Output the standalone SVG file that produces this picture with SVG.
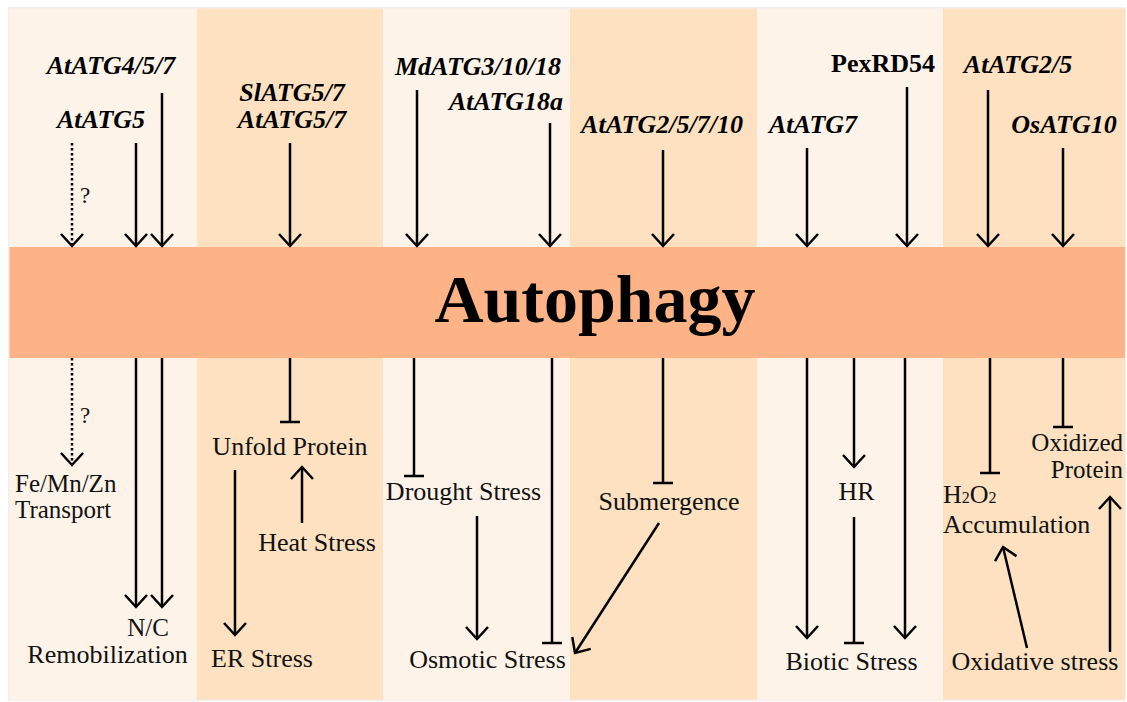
<svg xmlns="http://www.w3.org/2000/svg" width="1127" height="702" viewBox="0 0 1127 702">
<style>
.lt{fill:#FEF3E8}
.dk{fill:#FDE1C0}
.band{fill:#FDB385}
.gene{font-family:"Liberation Serif","Times New Roman",serif;font-size:26px;font-weight:bold;font-style:italic;fill:#000;text-anchor:middle}
.prot{font-family:"Liberation Serif","Times New Roman",serif;font-size:26px;font-weight:bold;fill:#000;text-anchor:middle}
.lbl{font-family:"Liberation Serif","Times New Roman",serif;font-size:26px;fill:#111;text-anchor:middle}
.l2{font-size:25px}
.q{font-family:"Liberation Serif","Times New Roman",serif;font-size:23px;fill:#111}
.title{font-family:"Liberation Serif","Times New Roman",serif;font-size:68px;font-weight:bold;fill:#000;text-anchor:middle}
.ln{stroke:#000;stroke-width:2.5;fill:none}
.act{marker-end:url(#arr)}
.inh{marker-end:url(#bar)}
.dot{stroke-dasharray:2.5 2.5}
</style>
<defs>
<marker id="arr" markerUnits="userSpaceOnUse" viewBox="-16 -14 20 28" refX="0" refY="0" markerWidth="20" markerHeight="28" orient="auto" overflow="visible">
<path d="M-12,-11 L0,0 L-12,11" fill="none" stroke="#000" stroke-width="2.5"/>
</marker>
<marker id="bar" markerUnits="userSpaceOnUse" viewBox="-4 -12 8 24" refX="0" refY="0" markerWidth="8" markerHeight="24" orient="auto" overflow="visible">
<path d="M0,-10 L0,10" fill="none" stroke="#000" stroke-width="2.5"/>
</marker>
</defs>
<rect x="0" y="0" width="1127" height="702" fill="#ffffff"/>
<g id="background">
<rect x="9" y="8" width="1116" height="692" fill="none" stroke="#E6E0D8" stroke-width="1"/>
<rect class="lt" x="9.5" y="8.5" width="188" height="691"/>
<rect class="dk" x="197" y="8.5" width="186" height="691"/>
<rect class="lt" x="383" y="8.5" width="187" height="691"/>
<rect class="dk" x="570" y="8.5" width="187" height="691"/>
<rect class="lt" x="757" y="8.5" width="186" height="691"/>
<rect class="dk" x="943" y="8.5" width="182" height="691"/>
</g>
<g id="autophagy">
<rect class="band" x="9.5" y="247" width="1115.5" height="111"/>
<text class="title" x="595" y="322">Autophagy</text>
</g>
<g id="gene-AtATG457"><text class="gene" x="111" y="74">AtATG4/5/7</text></g>
<g id="gene-AtATG5"><text class="gene" x="101" y="128">AtATG5</text></g>
<g id="gene-SlATG57"><text class="gene" x="292" y="101">SlATG5/7</text><text class="gene" x="292" y="128">AtATG5/7</text></g>
<g id="gene-MdATG31018"><text class="gene" x="478" y="75">MdATG3/10/18</text></g>
<g id="gene-AtATG18a"><text class="gene" x="506" y="110">AtATG18a</text></g>
<g id="gene-AtATG25710"><text class="gene" x="662" y="133">AtATG2/5/7/10</text></g>
<g id="gene-AtATG7"><text class="gene" x="813" y="133">AtATG7</text></g>
<g id="gene-PexRD54"><text class="prot" x="883" y="72">PexRD54</text></g>
<g id="gene-AtATG25"><text class="gene" x="1018" y="73">AtATG2/5</text></g>
<g id="gene-OsATG10"><text class="gene" x="1064" y="133">OsATG10</text></g>
<g id="node-FeMnZn"><text class="lbl l2" style="text-anchor:start" x="15" y="492">Fe/Mn/Zn</text><text class="lbl l2" style="text-anchor:start" x="15" y="518">Transport</text></g>
<g id="node-NC"><text class="lbl l2" x="148" y="636">N/C</text><text class="lbl" x="107.5" y="663">Remobilization</text></g>
<g id="node-Unfold"><text class="lbl" x="290" y="455">Unfold Protein</text></g>
<g id="node-Heat"><text class="lbl" x="317" y="551">Heat Stress</text></g>
<g id="node-ER"><text class="lbl" x="262" y="667">ER Stress</text></g>
<g id="node-Drought"><text class="lbl" x="463.5" y="500">Drought Stress</text></g>
<g id="node-Osmotic"><text class="lbl" x="487.5" y="668">Osmotic Stress</text></g>
<g id="node-Submergence"><text class="lbl" x="669" y="510">Submergence</text></g>
<g id="node-HR"><text class="lbl" x="856.5" y="500">HR</text></g>
<g id="node-Biotic"><text class="lbl" x="851.5" y="670">Biotic Stress</text></g>
<g id="node-H2O2"><text class="lbl" style="text-anchor:start" x="943" y="503">H<tspan font-size="16">2</tspan>O<tspan font-size="16">2</tspan></text><text class="lbl" style="text-anchor:start" x="943" y="533">Accumulation</text></g>
<g id="node-Oxidized"><text class="lbl l2" style="text-anchor:end" x="1123" y="451">Oxidized</text><text class="lbl l2" style="text-anchor:end" x="1123" y="478">Protein</text></g>
<g id="node-Oxidative"><text class="lbl" x="1035" y="670">Oxidative stress</text></g>
<g id="connectors">
<line class="ln act dot" x1="72" y1="143" x2="72" y2="246"/>
<text class="q" x="80" y="203">?</text>
<line class="ln act" x1="136" y1="143" x2="136" y2="246"/>
<line class="ln act" x1="162" y1="93" x2="162" y2="246"/>
<line class="ln act" x1="290" y1="143" x2="290" y2="246"/>
<line class="ln act" x1="417" y1="90" x2="417" y2="246"/>
<line class="ln act" x1="550" y1="123" x2="550" y2="246"/>
<line class="ln act" x1="663" y1="150" x2="663" y2="246"/>
<line class="ln act" x1="807" y1="148" x2="807" y2="246"/>
<line class="ln act" x1="907" y1="87" x2="907" y2="246"/>
<line class="ln act" x1="988" y1="90" x2="988" y2="246"/>
<line class="ln act" x1="1063" y1="148" x2="1063" y2="246"/>
<line class="ln act dot" x1="72" y1="358" x2="72" y2="465"/>
<text class="q" x="80" y="423">?</text>
<line class="ln act" x1="136" y1="358" x2="136" y2="607"/>
<line class="ln act" x1="162" y1="358" x2="162" y2="607"/>
<line class="ln inh" x1="290" y1="358" x2="290" y2="422"/>
<line class="ln act" x1="235" y1="470" x2="235" y2="635"/>
<line class="ln act" x1="302" y1="523" x2="302" y2="467"/>
<line class="ln inh" x1="414" y1="358" x2="414" y2="476"/>
<line class="ln act" x1="477" y1="516" x2="477" y2="639"/>
<line class="ln inh" x1="552" y1="358" x2="552" y2="643"/>
<line class="ln inh" x1="663" y1="358" x2="663" y2="483"/>
<line class="ln act" x1="659" y1="523" x2="575" y2="653"/>
<line class="ln act" x1="807" y1="358" x2="807" y2="638"/>
<line class="ln act" x1="854" y1="358" x2="854" y2="467"/>
<line class="ln inh" x1="854" y1="517" x2="854" y2="643"/>
<line class="ln act" x1="905" y1="358" x2="905" y2="638"/>
<line class="ln inh" x1="990" y1="358" x2="990" y2="473"/>
<line class="ln inh" x1="1063" y1="358" x2="1063" y2="427"/>
<line class="ln act" x1="1027" y1="648" x2="1003" y2="547"/>
<line class="ln act" x1="1110" y1="652" x2="1110" y2="497"/>
</g>
</svg>
